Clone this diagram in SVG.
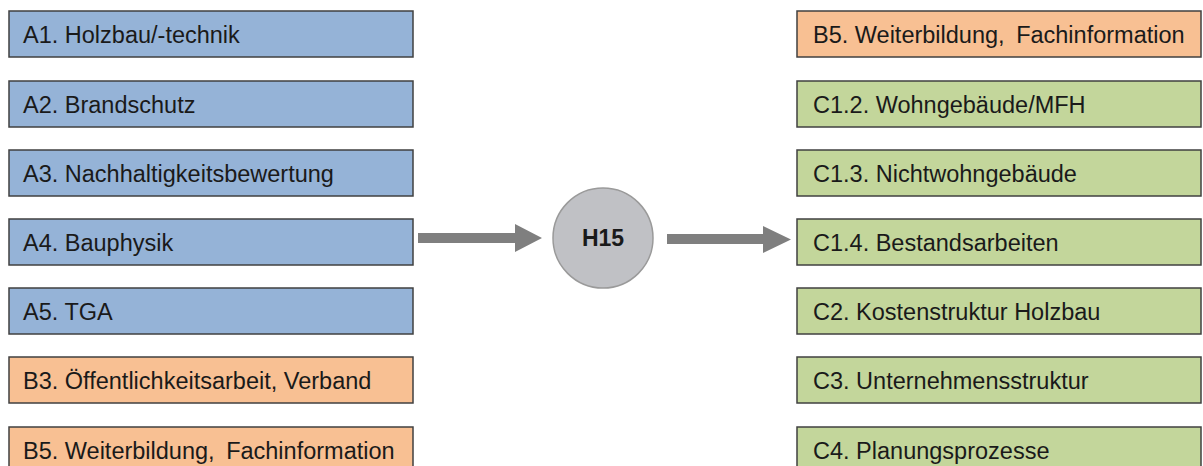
<svg xmlns="http://www.w3.org/2000/svg" width="1203" height="466" viewBox="0 0 1203 466">
<style>
.box{stroke:#404040;stroke-width:1.5}
.blue{fill:#95b3d7}
.orange{fill:#f8c093}
.green{fill:#c3d69b}
.lbl{font-family:"Liberation Sans",Arial,sans-serif;font-size:23.5px;fill:#1a1a1a}
.arrow{fill:#7f7f7f}
</style>
<rect width="1203" height="466" fill="#ffffff"/>
<g id="A1"><rect class="box blue" x="9" y="11" width="404" height="46"/><text class="lbl" x="23" y="43">A1. Holzbau/-technik</text></g>
<g id="A2"><rect class="box blue" x="9" y="81" width="404" height="46"/><text class="lbl" x="23" y="113">A2. Brandschutz</text></g>
<g id="A3"><rect class="box blue" x="9" y="150" width="404" height="46"/><text class="lbl" x="23" y="182">A3. Nachhaltigkeitsbewertung</text></g>
<g id="A4"><rect class="box blue" x="9" y="219" width="404" height="46"/><text class="lbl" x="23" y="251">A4. Bauphysik</text></g>
<g id="A5"><rect class="box blue" x="9" y="288" width="404" height="46"/><text class="lbl" x="23" y="320">A5. TGA</text></g>
<g id="B3"><rect class="box orange" x="9" y="357" width="404" height="46"/><text class="lbl" x="23" y="389">B3. Öffentlichkeitsarbeit, Verband</text></g>
<g id="B5L"><rect class="box orange" x="9" y="427" width="404" height="46"/><text class="lbl" x="23" y="459">B5. Weiterbildung, <tspan dx="5">Fachinformation</tspan></text></g>
<g id="H15"><circle cx="603" cy="238" r="50" fill="#c0c1c5" stroke="#9a9a9a" stroke-width="1.5"/><text x="603" y="246" text-anchor="middle" font-family="Liberation Sans,Arial,sans-serif" font-size="23" font-weight="bold" fill="#1a1a1a">H15</text></g>
<g id="B5R"><rect class="box orange" x="797" y="11" width="404" height="46"/><text class="lbl" x="813" y="43">B5. Weiterbildung, <tspan dx="5">Fachinformation</tspan></text></g>
<g id="C1.2"><rect class="box green" x="797" y="81" width="404" height="46"/><text class="lbl" x="813" y="113">C1.2. Wohngebäude/MFH</text></g>
<g id="C1.3"><rect class="box green" x="797" y="150" width="404" height="46"/><text class="lbl" x="813" y="182">C1.3. Nichtwohngebäude</text></g>
<g id="C1.4"><rect class="box green" x="797" y="219" width="404" height="46"/><text class="lbl" x="813" y="251">C1.4. Bestandsarbeiten</text></g>
<g id="C2"><rect class="box green" x="797" y="288" width="404" height="46"/><text class="lbl" x="813" y="320">C2. Kostenstruktur Holzbau</text></g>
<g id="C3"><rect class="box green" x="797" y="357" width="404" height="46"/><text class="lbl" x="813" y="389">C3. Unternehmensstruktur</text></g>
<g id="C4"><rect class="box green" x="797" y="427" width="404" height="46"/><text class="lbl" x="813" y="459">C4. Planungsprozesse</text></g>
<g id="connectors">
<polygon class="arrow" points="418,233 515,233 515,224 542,238 515,252 515,243 418,243"/>
<polygon class="arrow" points="667,234 763,234 763,226 791,239.5 763,253 763,244 667,244"/>
</g>
</svg>
